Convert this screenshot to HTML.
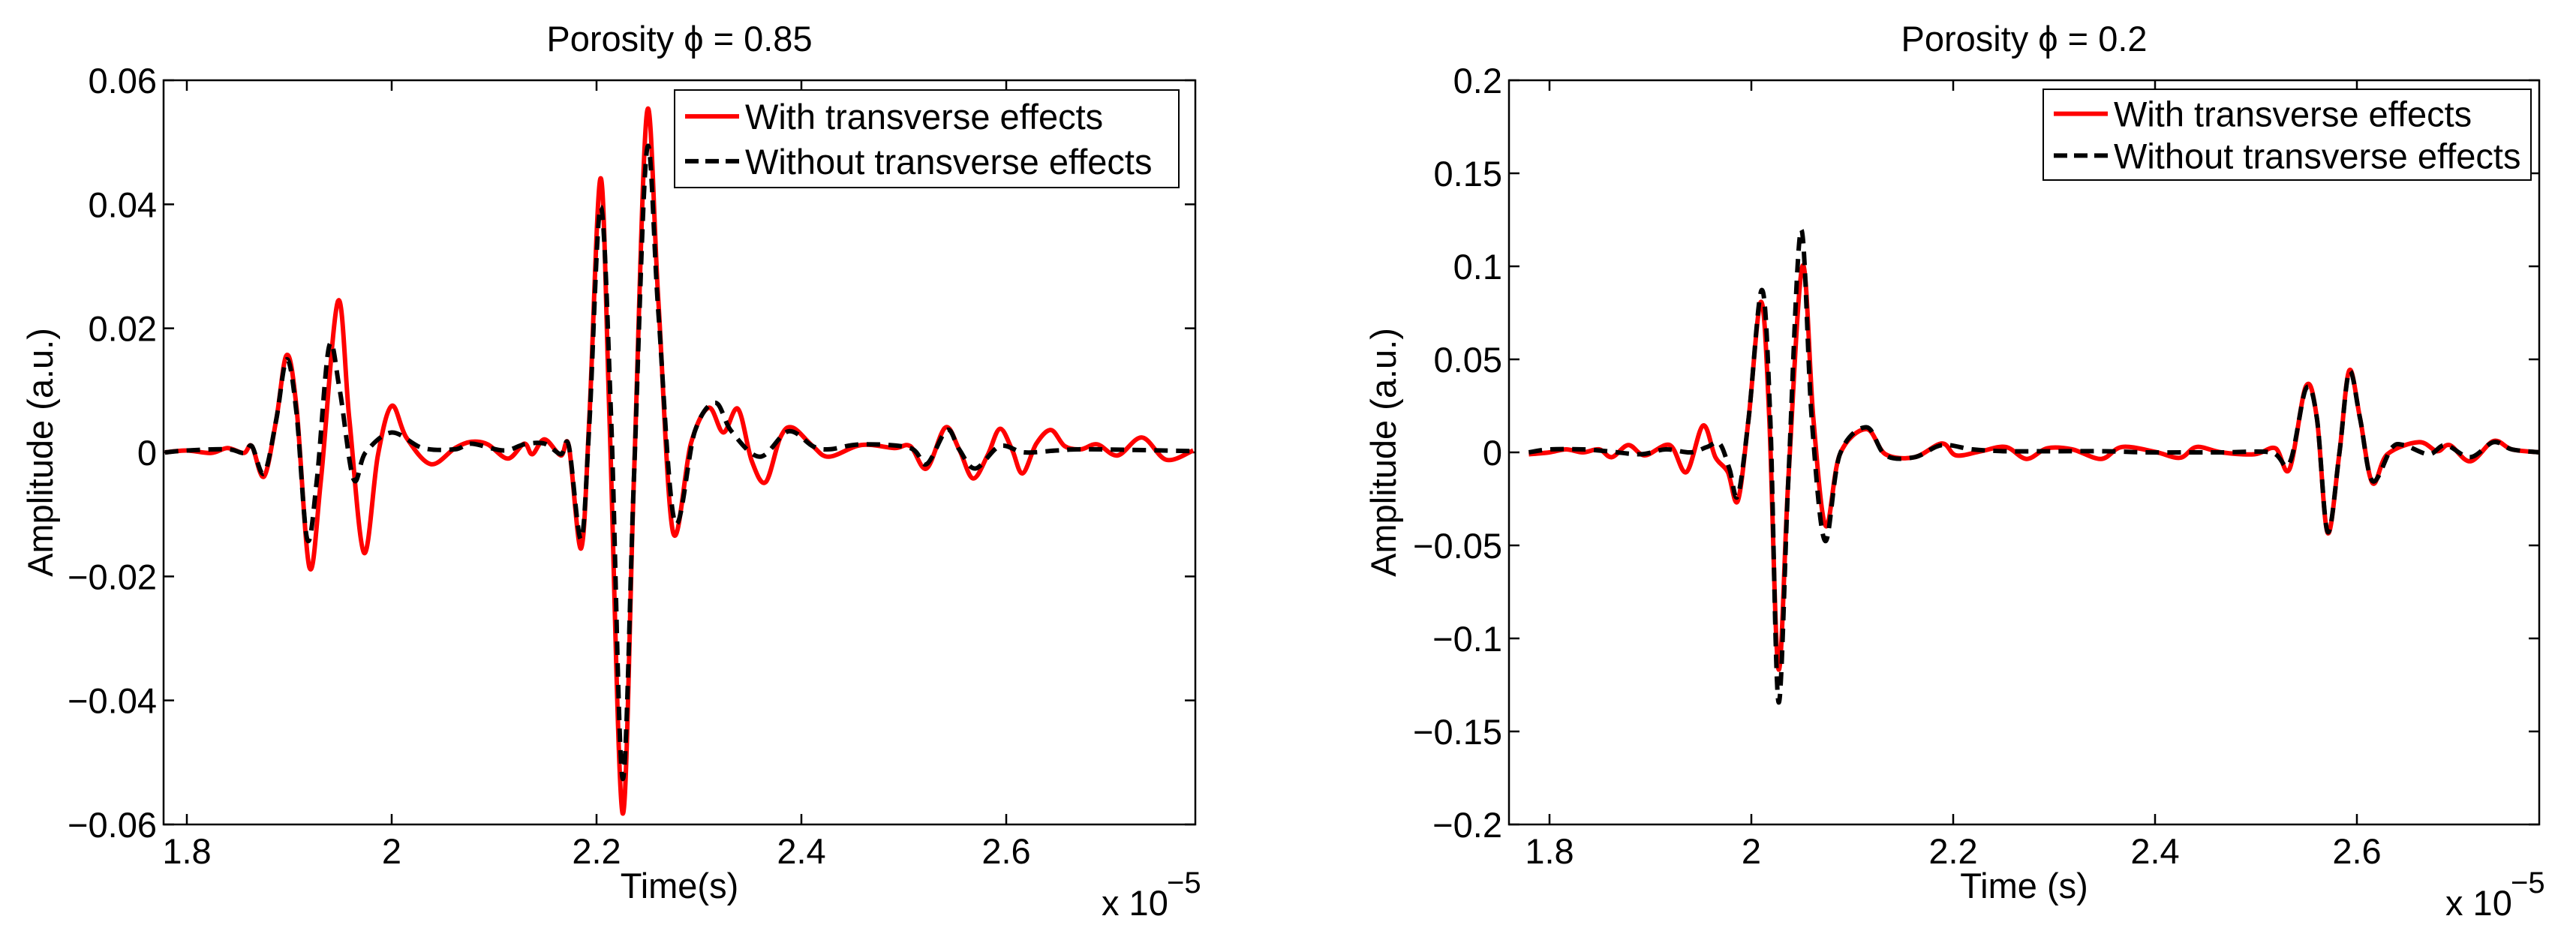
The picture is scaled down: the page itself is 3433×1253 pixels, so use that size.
<!DOCTYPE html>
<html><head><meta charset="utf-8"><style>
html,body{margin:0;padding:0;background:#fff;}
svg text{font-family:"Liberation Sans","DejaVu Sans",sans-serif;fill:#000;}
</style></head><body>
<svg id="fig" width="3433" height="1248" viewBox="0 0 3433 1248" xmlns="http://www.w3.org/2000/svg"></svg>
<script>
// ---- data: left panel (porosity 0.85) ----
const leftRedT=[1.7786,1.8,1.8238,1.8397,1.8556,1.8635,1.8754,1.8873,1.8976,1.9071,1.9198,1.9310,1.9476,1.9587,1.9730,1.9865,2.0,2.0143,2.0381,2.0619,2.0778,2.0937,2.1135,2.1294,2.1373,2.1492,2.1651,2.1730,2.1849,2.1929,2.2040,2.2127,2.2254,2.2365,2.2492,2.2603,2.2746,2.2921,2.3095,2.3238,2.3381,2.3516,2.3651,2.3794,2.3913,2.4111,2.4270,2.4587,2.4905,2.5063,2.5222,2.5405,2.5540,2.5675,2.5817,2.5937,2.6056,2.6159,2.6294,2.6437,2.6571,2.6730,2.6889,2.7087,2.7325,2.7563,2.7825];
const leftRedV=[0,.0003,-.0001,.0007,-.0001,.001,-.0039,.0053,.0157,.0072,-.0186,-.0043,.0244,.0053,-.0162,-.0005,.0075,.0024,-.0019,.0007,.0017,.0013,-.001,.0014,-.0003,.0021,-.0005,.001,-.0155,.0053,.0442,.0053,-.0582,-.0043,.0548,.0246,-.0128,.0014,.0072,.0032,.007,-.0014,-.0048,.0024,.004,.001,-.0007,.0012,.0007,.001,-.0026,.004,.0005,-.0042,-.0005,.0038,.0005,-.0034,.0014,.0036,.001,.0005,.0013,-.0005,.0024,-.0012,.0003];
const leftBlackT=[1.7786,1.8,1.8397,1.8556,1.8635,1.8754,1.8873,1.8976,1.9071,1.9175,1.9270,1.9389,1.9492,1.9627,1.9746,2.0,2.0302,2.0619,2.0778,2.1095,2.1294,2.1492,2.1651,2.1730,2.1849,2.1929,2.2040,2.2143,2.2254,2.2365,2.2492,2.2603,2.2762,2.2960,2.3159,2.3317,2.3595,2.3873,2.4111,2.4270,2.4587,2.5063,2.5222,2.5421,2.5540,2.5698,2.5937,2.6175,2.6492,2.6810,2.7825];
const leftBlackV=[0,.0003,.0005,-.0001,.001,-.0034,.0053,.015,.0063,-.014,-.0043,.0171,.0101,-.0043,0,.0032,.0007,.0005,.0014,.0003,.0013,.0014,-.0003,.001,-.014,.0043,.0396,.0053,-.0526,-.0043,.0488,.0227,-.0111,.0034,.008,.0034,-.0007,.0034,.001,.0005,.0013,.0007,-.0019,.0036,.0005,-.0026,.001,0,.0003,.0005,.0002];
// ---- data: right panel (porosity 0.2) ----
const rightRedT=[1.7795,1.8,1.8164,1.8329,1.8493,1.8617,1.8781,1.8945,1.9192,1.9356,1.9521,1.9644,1.9767,1.9866,1.9973,2.0096,2.0178,2.0269,2.0367,2.0507,2.0614,2.0737,2.0877,2.1140,2.1329,2.1617,2.1888,2.2028,2.2274,2.2521,2.2727,2.2932,2.3179,2.3466,2.3672,2.4001,2.4247,2.4412,2.4658,2.4987,2.5193,2.5332,2.5496,2.5604,2.5710,2.5825,2.5924,2.6031,2.6154,2.6302,2.6615,2.6795,2.6919,2.7124,2.7354,2.7535,2.7815];
const rightRedV=[-.001,0,.0016,0,.0016,-.0026,.0039,-.0016,.0039,-.0106,.0144,-.0026,-.0106,-.026,.0183,.0809,.0183,-.1165,-.0138,.1002,.0183,-.0395,-.001,.0125,-.001,-.0026,.0048,-.0016,.0006,.0029,-.0035,.0022,.0016,-.0035,.0029,.0003,-.0029,.0029,0,-.001,.0022,-.009,.0356,.0183,-.0433,-.001,.044,.0183,-.0164,-.001,.0055,.0006,.0039,-.0048,.0061,.0016,0];
const rightBlackT=[1.7795,1.8,1.8329,1.8575,1.8904,1.9151,1.9397,1.9562,1.9685,1.9784,1.9866,1.9973,2.0104,2.0187,2.0269,2.0367,2.0491,2.0598,2.0729,2.0877,2.1140,2.1329,2.1617,2.1888,2.2192,2.2521,2.2932,2.3507,2.3918,2.4329,2.4658,2.5151,2.5332,2.5496,2.5604,2.5710,2.5825,2.5924,2.6031,2.6154,2.6343,2.6467,2.6713,2.6878,2.7124,2.7354,2.7535,2.7815];
const rightBlackV=[0,.0016,.0016,.0006,-.001,.0016,0,.0029,.0048,-.009,-.0234,.0183,.0873,.0183,-.1342,-.0138,.1194,.0183,-.0475,-.001,.0135,-.0016,-.0026,.0039,.0016,.0006,.0006,.0006,0,0,0,0,-.0058,.0343,.0183,-.0427,-.001,.0433,.0183,-.0154,.0022,.0039,-.001,.0039,-.0026,.0055,.0016,0];
const xTicks=[1.8,2,2.2,2.4,2.6];
const xTickLabels=["1.8","2","2.2","2.4","2.6"];
const leftYTicks=[-0.06,-0.04,-0.02,0,0.02,0.04,0.06];
const leftYTickLabels=["\u22120.06","\u22120.04","\u22120.02","0","0.02","0.04","0.06"];
const rightYTicks=[-0.2,-0.15,-0.1,-0.05,0,0.05,0.1,0.15,0.2];
const rightYTickLabels=["\u22120.2","\u22120.15","\u22120.1","\u22120.05","0","0.05","0.1","0.15","0.2"];

const NS="http://www.w3.org/2000/svg";
const svg=document.getElementById('fig');
function mk(tag,attrs,parent){const e=document.createElementNS(NS,tag);for(const k in attrs)e.setAttribute(k,attrs[k]);(parent||svg).appendChild(e);return e;}
function smooth(pts){let d=`M${pts[0][0].toFixed(1)},${pts[0][1].toFixed(1)}`;
 for(let i=0;i<pts.length-1;i++){const p0=pts[Math.max(0,i-1)],p1=pts[i],p2=pts[i+1],p3=pts[Math.min(pts.length-1,i+2)];
  const c1x=p1[0]+(p2[0]-p0[0])/6,c1y=p1[1]+(p2[1]-p0[1])/6,c2x=p2[0]-(p3[0]-p1[0])/6,c2y=p2[1]-(p3[1]-p1[1])/6;
  d+=`C${c1x.toFixed(1)},${c1y.toFixed(1)} ${c2x.toFixed(1)},${c2y.toFixed(1)} ${p2[0].toFixed(1)},${p2[1].toFixed(1)}`;}
 return d;}

function panel(cfg){
 const g=mk('g',{});
 
 
 const L=cfg.L,R=cfg.R,T=107,B=1099;
 const sx=t=>cfg.px18+(t-1.8)*cfg.pxPer02/0.2;
 const sy=v=>B-(v-cfg.ymin)/(cfg.ymax-cfg.ymin)*(B-T);
 const clip=mk('clipPath',{id:cfg.name+'-clip'},g);mk('rect',{x:L,y:T,width:R-L,height:B-T},clip);
 xTicks.forEach((t,i)=>{const x=sx(t);
  const tk=mk('path',{d:`M${x},${B}V${B-14}M${x},${T}V${T+14}`,stroke:'#000','stroke-width':2.5,fill:'none'},g);
  
  
  const tl=mk('text',{x:x,y:1151,'font-size':47,'text-anchor':'middle'},g);tl.textContent=xTickLabels[i];
  
  });
 cfg.yt.forEach((v,i)=>{const y=sy(v);
  const tk=mk('path',{d:`M${L},${y}H${L+14}M${R},${y}H${R-14}`,stroke:'#000','stroke-width':2.5,fill:'none'},g);
  
  
  const tl=mk('text',{x:L-9,y:y+17,'font-size':47,'text-anchor':'end'},g);tl.textContent=cfg.ytl[i];
  
  });
 const red=mk('path',{d:smooth(cfg.rt.map((t,i)=>[sx(t),sy(cfg.rv[i])])),stroke:'#ff0000','stroke-width':6,fill:'none','stroke-linejoin':'round','clip-path':`url(#${cfg.name}-clip)`},g);
 
 
 const blk=mk('path',{d:smooth(cfg.bt.map((t,i)=>[sx(t),sy(cfg.bv[i])])),stroke:'#000','stroke-width':6,fill:'none','stroke-dasharray':'18 11','clip-path':`url(#${cfg.name}-clip)`},g);
 
 
 const fr=mk('rect',{x:L,y:T,width:R-L,height:B-T,fill:'none',stroke:'#000','stroke-width':2.5},g);
 
 
 const ti=mk('text',{x:(L+R)/2,y:68,'font-size':47,'text-anchor':'middle'},g);ti.textContent=cfg.title;
 
 
 const xl=mk('text',{x:(L+R)/2,y:1197,'font-size':47,'text-anchor':'middle'},g);xl.textContent=cfg.xlabel;
 
 
 const yl=mk('text',{x:0,y:0,'font-size':47,'text-anchor':'middle',transform:`translate(${cfg.ylx},${(T+B)/2}) rotate(-90)`},g);yl.textContent='Amplitude (a.u.)';
 
 
 const ex=mk('text',{x:R-125,y:1220,'font-size':47},g);ex.textContent='x 10';
 
 
 const ex2=mk('text',{x:R-38,y:1190,'font-size':40},g);ex2.textContent='\u22125';
 
 
 const lg=mk('g',{},g);
 
 
 mk('rect',{x:cfg.lx,y:cfg.ly,width:cfg.lw,height:cfg.lh,fill:'#fff',stroke:'#000','stroke-width':2},lg);
 const r1=cfg.ly+cfg.lh*0.27,r2=cfg.ly+cfg.lh*0.73;
 const e1=mk('g',{},lg);
 
 
 mk('path',{d:`M${cfg.lx+14},${r1}h72`,stroke:'#ff0000','stroke-width':6},e1);
 const t1=mk('text',{x:cfg.lx+94,y:r1+17,'font-size':47},e1);t1.textContent='With transverse effects';
 const e2=mk('g',{},lg);
 
 
 mk('path',{d:`M${cfg.lx+14},${r2}h72`,stroke:'#000','stroke-width':6,'stroke-dasharray':'18 9'},e2);
 const t2=mk('text',{x:cfg.lx+94,y:r2+17,'font-size':47},e2);t2.textContent='Without transverse effects';
}
panel({name:'left-panel',L:218,R:1593,px18:249,pxPer02:273,ymin:-0.06,ymax:0.06,yt:leftYTicks,ytl:leftYTickLabels,
 rt:leftRedT,rv:leftRedV,bt:leftBlackT,bv:leftBlackV,title:'Porosity \u03d5 = 0.85',xlabel:'Time(s)',ylx:70,lx:899,ly:120,lw:672,lh:130});
panel({name:'right-panel',L:2011,R:3384,px18:2065,pxPer02:269,ymin:-0.2,ymax:0.2,yt:rightYTicks,ytl:rightYTickLabels,
 rt:rightRedT,rv:rightRedV,bt:rightBlackT,bv:rightBlackV,title:'Porosity \u03d5 = 0.2',xlabel:'Time (s)',ylx:1860,lx:2723,ly:119,lw:650,lh:121});
</script>
</body></html>
